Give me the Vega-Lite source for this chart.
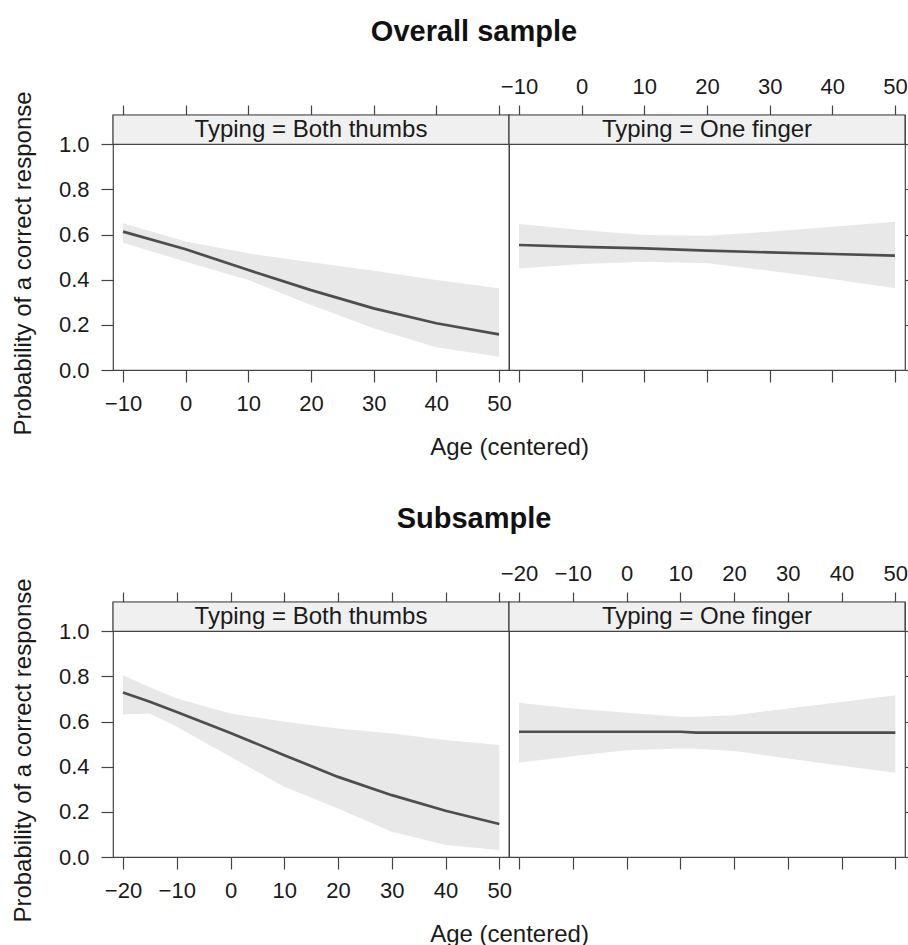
{
  "$schema": "https://vega.github.io/schema/vega-lite/v6.json",
  "padding": {"left": 10, "top": 17, "right": 0, "bottom": 0},
  "datasets": {
    "d": [
      {"s": "Overall", "t": "Both thumbs", "age": -10, "fit": 0.613, "lo": 0.564, "hi": 0.650},
      {"s": "Overall", "t": "Both thumbs", "age": 0, "fit": 0.535, "lo": 0.480, "hi": 0.569},
      {"s": "Overall", "t": "Both thumbs", "age": 10, "fit": 0.443, "lo": 0.399, "hi": 0.517},
      {"s": "Overall", "t": "Both thumbs", "age": 20, "fit": 0.354, "lo": 0.288, "hi": 0.477},
      {"s": "Overall", "t": "Both thumbs", "age": 30, "fit": 0.273, "lo": 0.185, "hi": 0.440},
      {"s": "Overall", "t": "Both thumbs", "age": 40, "fit": 0.207, "lo": 0.101, "hi": 0.399},
      {"s": "Overall", "t": "Both thumbs", "age": 50, "fit": 0.158, "lo": 0.059, "hi": 0.362},
      {"s": "Overall", "t": "One finger", "age": -10, "fit": 0.554, "lo": 0.450, "hi": 0.647},
      {"s": "Overall", "t": "One finger", "age": 0, "fit": 0.546, "lo": 0.470, "hi": 0.620},
      {"s": "Overall", "t": "One finger", "age": 10, "fit": 0.539, "lo": 0.480, "hi": 0.598},
      {"s": "Overall", "t": "One finger", "age": 20, "fit": 0.529, "lo": 0.473, "hi": 0.595},
      {"s": "Overall", "t": "One finger", "age": 30, "fit": 0.521, "lo": 0.440, "hi": 0.613},
      {"s": "Overall", "t": "One finger", "age": 40, "fit": 0.514, "lo": 0.403, "hi": 0.635},
      {"s": "Overall", "t": "One finger", "age": 50, "fit": 0.507, "lo": 0.362, "hi": 0.657},
      {"s": "Sub", "t": "Both thumbs", "age": -20, "fit": 0.729, "lo": 0.631, "hi": 0.805},
      {"s": "Sub", "t": "Both thumbs", "age": -15, "fit": 0.688, "lo": 0.636, "hi": 0.752},
      {"s": "Sub", "t": "Both thumbs", "age": -10, "fit": 0.643, "lo": 0.577, "hi": 0.702},
      {"s": "Sub", "t": "Both thumbs", "age": 0, "fit": 0.550, "lo": 0.444, "hi": 0.636},
      {"s": "Sub", "t": "Both thumbs", "age": 10, "fit": 0.451, "lo": 0.311, "hi": 0.599},
      {"s": "Sub", "t": "Both thumbs", "age": 20, "fit": 0.355, "lo": 0.215, "hi": 0.569},
      {"s": "Sub", "t": "Both thumbs", "age": 30, "fit": 0.274, "lo": 0.112, "hi": 0.547},
      {"s": "Sub", "t": "Both thumbs", "age": 40, "fit": 0.205, "lo": 0.053, "hi": 0.518},
      {"s": "Sub", "t": "Both thumbs", "age": 50, "fit": 0.146, "lo": 0.031, "hi": 0.496},
      {"s": "Sub", "t": "One finger", "age": -20, "fit": 0.555, "lo": 0.419, "hi": 0.683},
      {"s": "Sub", "t": "One finger", "age": -10, "fit": 0.555, "lo": 0.447, "hi": 0.658},
      {"s": "Sub", "t": "One finger", "age": 0, "fit": 0.555, "lo": 0.473, "hi": 0.639},
      {"s": "Sub", "t": "One finger", "age": 10, "fit": 0.555, "lo": 0.481, "hi": 0.621},
      {"s": "Sub", "t": "One finger", "age": 13, "fit": 0.551, "lo": 0.480, "hi": 0.622},
      {"s": "Sub", "t": "One finger", "age": 20, "fit": 0.551, "lo": 0.470, "hi": 0.628},
      {"s": "Sub", "t": "One finger", "age": 30, "fit": 0.551, "lo": 0.437, "hi": 0.658},
      {"s": "Sub", "t": "One finger", "age": 40, "fit": 0.551, "lo": 0.404, "hi": 0.687},
      {"s": "Sub", "t": "One finger", "age": 50, "fit": 0.551, "lo": 0.373, "hi": 0.717}
    ]
  },
  "vconcat": [
    {
      "spacing": 0,
      "bounds": "flush",
      "hconcat": [
        {
          "title": {"text": "Overall sample", "fontSize": 29, "fontWeight": "bold", "anchor": "middle", "frame": "group", "dx": 163, "offset": 44, "color": "#111"},
          "width": 396, "height": 255,
          "data": {"name": "d"},
          "transform": [{"filter": "datum.s === 'Overall' && datum.t === 'Both thumbs'"}],
          "layer": [
            {"mark": {"type": "area", "color": "#e8e8e8", "opacity": 1},
             "encoding": {
               "x": {"field": "age", "type": "quantitative", "scale": {"domain": [-11.6, 51.6], "nice": false, "zero": false},
                     "axis": {"orient": "bottom", "values": [-10, 0, 10, 20, 30, 40, 50], "tickSize": 12, "labelPadding": 11, "title": "Age (centered)", "titleX": 396, "titleY": 77, "titleAlign": "center", "titleBaseline": "middle"}},
               "y": {"field": "lo", "type": "quantitative", "scale": {"domain": [0, 1.13], "nice": false, "zero": false},
                     "axis": {"orient": "left", "values": [0, 0.2, 0.4, 0.6, 0.8, 1], "format": ".1f", "tickSize": 12, "labelPadding": 12, "title": "Probability of a correct response", "titleX": -90, "titleY": 148, "titleAlign": "center", "titleBaseline": "middle", "titleAngle": -90}},
               "y2": {"field": "hi"}}},
            {"mark": {"type": "line", "color": "#4d4d4d", "strokeWidth": 2.7},
             "encoding": {
               "x": {"field": "age", "type": "quantitative", "scale": {"domain": [-11.6, 51.6], "nice": false, "zero": false},
                     "axis": {"orient": "top", "values": [-10, 0, 10, 20, 30, 40, 50], "tickSize": 10, "labels": false, "title": null}},
               "y": {"field": "fit", "type": "quantitative", "scale": {"domain": [0, 1.13], "nice": false, "zero": false}, "axis": null}}},
            {"data": {"values": [{}]},
             "mark": {"type": "rect", "fill": "#f0f0f0", "stroke": "#444", "strokeWidth": 1.2},
             "encoding": {
               "x": {"datum": -11.6, "type": "quantitative", "scale": {"domain": [-11.6, 51.6], "nice": false, "zero": false}, "axis": null},
               "x2": {"datum": 51.6},
               "y": {"datum": 1.0, "type": "quantitative", "scale": {"domain": [0, 1.13], "nice": false, "zero": false}, "axis": null},
               "y2": {"datum": 1.13}}},
            {"data": {"values": [{}]},
             "mark": {"type": "text", "fontSize": 24, "color": "#1a1a1a", "font": "Liberation Sans"},
             "encoding": {
               "x": {"datum": 20, "type": "quantitative", "scale": {"domain": [-11.6, 51.6], "nice": false, "zero": false}, "axis": null},
               "y": {"datum": 1.065, "type": "quantitative", "scale": {"domain": [0, 1.13], "nice": false, "zero": false}, "axis": null},
               "text": {"value": "Typing = Both thumbs"}}}
          ],
          "resolve": {"axis": {"x": "independent", "y": "independent"}}
        },
        {
          "width": 396, "height": 255,
          "data": {"name": "d"},
          "transform": [{"filter": "datum.s === 'Overall' && datum.t === 'One finger'"}],
          "layer": [
            {"mark": {"type": "area", "color": "#e8e8e8", "opacity": 1},
             "encoding": {
               "x": {"field": "age", "type": "quantitative", "scale": {"domain": [-11.6, 51.6], "nice": false, "zero": false},
                     "axis": {"orient": "top", "values": [-10, 0, 10, 20, 30, 40, 50], "tickSize": 10, "labelPadding": 7, "title": null}},
               "y": {"field": "lo", "type": "quantitative", "scale": {"domain": [0, 1.13], "nice": false, "zero": false},
                     "axis": {"orient": "right", "values": [0, 0.2, 0.4, 0.6, 0.8, 1], "tickSize": 12, "labels": false, "title": null}},
               "y2": {"field": "hi"}}},
            {"mark": {"type": "line", "color": "#4d4d4d", "strokeWidth": 2.7},
             "encoding": {
               "x": {"field": "age", "type": "quantitative", "scale": {"domain": [-11.6, 51.6], "nice": false, "zero": false},
                     "axis": {"orient": "bottom", "values": [-10, 0, 10, 20, 30, 40, 50], "tickSize": 12, "labels": false, "title": null}},
               "y": {"field": "fit", "type": "quantitative", "scale": {"domain": [0, 1.13], "nice": false, "zero": false}, "axis": null}}},
            {"data": {"values": [{}]},
             "mark": {"type": "rect", "fill": "#f0f0f0", "stroke": "#444", "strokeWidth": 1.2},
             "encoding": {
               "x": {"datum": -11.6, "type": "quantitative", "scale": {"domain": [-11.6, 51.6], "nice": false, "zero": false}, "axis": null},
               "x2": {"datum": 51.6},
               "y": {"datum": 1.0, "type": "quantitative", "scale": {"domain": [0, 1.13], "nice": false, "zero": false}, "axis": null},
               "y2": {"datum": 1.13}}},
            {"data": {"values": [{}]},
             "mark": {"type": "text", "fontSize": 24, "color": "#1a1a1a", "font": "Liberation Sans"},
             "encoding": {
               "x": {"datum": 20, "type": "quantitative", "scale": {"domain": [-11.6, 51.6], "nice": false, "zero": false}, "axis": null},
               "y": {"datum": 1.065, "type": "quantitative", "scale": {"domain": [0, 1.13], "nice": false, "zero": false}, "axis": null},
               "text": {"value": "Typing = One finger"}}}
          ],
          "resolve": {"axis": {"x": "independent", "y": "independent"}}
        }
      ]
    },
    {
      "spacing": 0,
      "bounds": "flush",
      "hconcat": [
        {
          "title": {"text": "Subsample", "fontSize": 29, "fontWeight": "bold", "anchor": "middle", "frame": "group", "dx": 163, "offset": 44, "color": "#111"},
          "width": 396, "height": 255,
          "data": {"name": "d"},
          "transform": [{"filter": "datum.s === 'Sub' && datum.t === 'Both thumbs'"}],
          "layer": [
            {"mark": {"type": "area", "color": "#e8e8e8", "opacity": 1},
             "encoding": {
               "x": {"field": "age", "type": "quantitative", "scale": {"domain": [-21.86, 51.8], "nice": false, "zero": false},
                     "axis": {"orient": "bottom", "values": [-20, -10, 0, 10, 20, 30, 40, 50], "tickSize": 12, "labelPadding": 11, "title": "Age (centered)", "titleX": 396, "titleY": 77, "titleAlign": "center", "titleBaseline": "middle"}},
               "y": {"field": "lo", "type": "quantitative", "scale": {"domain": [0, 1.13], "nice": false, "zero": false},
                     "axis": {"orient": "left", "values": [0, 0.2, 0.4, 0.6, 0.8, 1], "format": ".1f", "tickSize": 12, "labelPadding": 12, "title": "Probability of a correct response", "titleX": -90, "titleY": 148, "titleAlign": "center", "titleBaseline": "middle", "titleAngle": -90}},
               "y2": {"field": "hi"}}},
            {"mark": {"type": "line", "color": "#4d4d4d", "strokeWidth": 2.7},
             "encoding": {
               "x": {"field": "age", "type": "quantitative", "scale": {"domain": [-21.86, 51.8], "nice": false, "zero": false},
                     "axis": {"orient": "top", "values": [-20, -10, 0, 10, 20, 30, 40, 50], "tickSize": 10, "labels": false, "title": null}},
               "y": {"field": "fit", "type": "quantitative", "scale": {"domain": [0, 1.13], "nice": false, "zero": false}, "axis": null}}},
            {"data": {"values": [{}]},
             "mark": {"type": "rect", "fill": "#f0f0f0", "stroke": "#444", "strokeWidth": 1.2},
             "encoding": {
               "x": {"datum": -21.86, "type": "quantitative", "scale": {"domain": [-21.86, 51.8], "nice": false, "zero": false}, "axis": null},
               "x2": {"datum": 51.8},
               "y": {"datum": 1.0, "type": "quantitative", "scale": {"domain": [0, 1.13], "nice": false, "zero": false}, "axis": null},
               "y2": {"datum": 1.13}}},
            {"data": {"values": [{}]},
             "mark": {"type": "text", "fontSize": 24, "color": "#1a1a1a", "font": "Liberation Sans"},
             "encoding": {
               "x": {"datum": 14.97, "type": "quantitative", "scale": {"domain": [-21.86, 51.8], "nice": false, "zero": false}, "axis": null},
               "y": {"datum": 1.065, "type": "quantitative", "scale": {"domain": [0, 1.13], "nice": false, "zero": false}, "axis": null},
               "text": {"value": "Typing = Both thumbs"}}}
          ],
          "resolve": {"axis": {"x": "independent", "y": "independent"}}
        },
        {
          "width": 396, "height": 255,
          "data": {"name": "d"},
          "transform": [{"filter": "datum.s === 'Sub' && datum.t === 'One finger'"}],
          "layer": [
            {"mark": {"type": "area", "color": "#e8e8e8", "opacity": 1},
             "encoding": {
               "x": {"field": "age", "type": "quantitative", "scale": {"domain": [-21.86, 51.8], "nice": false, "zero": false},
                     "axis": {"orient": "top", "values": [-20, -10, 0, 10, 20, 30, 40, 50], "tickSize": 10, "labelPadding": 7, "title": null}},
               "y": {"field": "lo", "type": "quantitative", "scale": {"domain": [0, 1.13], "nice": false, "zero": false},
                     "axis": {"orient": "right", "values": [0, 0.2, 0.4, 0.6, 0.8, 1], "tickSize": 12, "labels": false, "title": null}},
               "y2": {"field": "hi"}}},
            {"mark": {"type": "line", "color": "#4d4d4d", "strokeWidth": 2.7},
             "encoding": {
               "x": {"field": "age", "type": "quantitative", "scale": {"domain": [-21.86, 51.8], "nice": false, "zero": false},
                     "axis": {"orient": "bottom", "values": [-20, -10, 0, 10, 20, 30, 40, 50], "tickSize": 12, "labels": false, "title": null}},
               "y": {"field": "fit", "type": "quantitative", "scale": {"domain": [0, 1.13], "nice": false, "zero": false}, "axis": null}}},
            {"data": {"values": [{}]},
             "mark": {"type": "rect", "fill": "#f0f0f0", "stroke": "#444", "strokeWidth": 1.2},
             "encoding": {
               "x": {"datum": -21.86, "type": "quantitative", "scale": {"domain": [-21.86, 51.8], "nice": false, "zero": false}, "axis": null},
               "x2": {"datum": 51.8},
               "y": {"datum": 1.0, "type": "quantitative", "scale": {"domain": [0, 1.13], "nice": false, "zero": false}, "axis": null},
               "y2": {"datum": 1.13}}},
            {"data": {"values": [{}]},
             "mark": {"type": "text", "fontSize": 24, "color": "#1a1a1a", "font": "Liberation Sans"},
             "encoding": {
               "x": {"datum": 14.97, "type": "quantitative", "scale": {"domain": [-21.86, 51.8], "nice": false, "zero": false}, "axis": null},
               "y": {"datum": 1.065, "type": "quantitative", "scale": {"domain": [0, 1.13], "nice": false, "zero": false}, "axis": null},
               "text": {"value": "Typing = One finger"}}}
          ],
          "resolve": {"axis": {"x": "independent", "y": "independent"}}
        }
      ]
    }
  ],
  "spacing": 44,
  "config": {
    "font": "Liberation Sans",
    "view": {"stroke": "#444", "strokeWidth": 1.2},
    "title": {"font": "Liberation Sans"},
    "axis": {"domain": false, "grid": false, "tickColor": "#444", "tickWidth": 1.2, "labelFontSize": 22, "labelColor": "#1a1a1a", "labelFont": "Liberation Sans", "labelFlush": false, "labelOverlap": false, "titleFontSize": 24, "titleFontWeight": "normal", "titleColor": "#1a1a1a", "titleFont": "Liberation Sans"}
  }
}
